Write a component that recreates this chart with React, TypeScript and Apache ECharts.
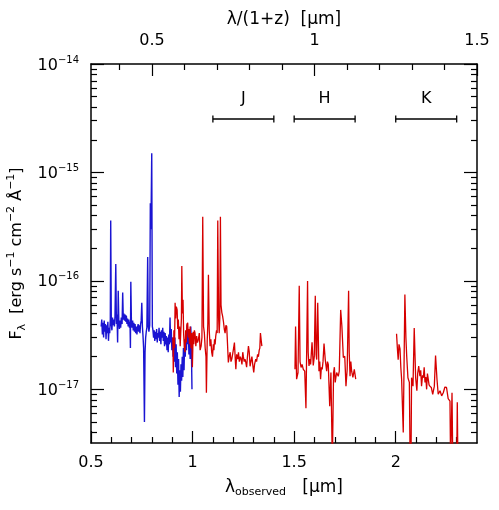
import React, { useEffect, useRef } from "react";
import * as echarts from "echarts";

// 1 + z
const ONE_PLUS_Z = 1.6;

// Axis ticks
const xMajor = [0.5, 1, 1.5, 2];
const xMinor = [0.6, 0.7, 0.8, 0.9, 1.1, 1.2, 1.3, 1.4, 1.6, 1.7, 1.8, 1.9, 2.1, 2.2, 2.3];
const restMajor = [0.5, 1, 1.5];
const restMinor = [0.4, 0.6, 0.7, 0.8, 0.9, 1.1, 1.2, 1.3, 1.4];
// flux in units of 1e-17 erg s^-1 cm^-2 A^-1
const yMajor = [1, 10, 100, 1000];
const yMinor = [
  0.4, 0.5, 0.6, 0.7, 0.8, 0.9,
  2, 3, 4, 5, 6, 7, 8, 9,
  20, 30, 40, 50, 60, 70, 80, 90,
  200, 300, 400, 500, 600, 700, 800, 900,
];

// NIR bands (observed micron)
const bandNames = ["J", "H", "K"];
const bandStart = [1.1, 1.5, 2.0];
const bandEnd = [1.4, 1.8, 2.3];
const bandLevel = 311;
const bandLabelLevel = 486;

// Optical spectrum (blue)
const blueWl = [
  0.55, 0.553, 0.556, 0.559, 0.562, 0.565, 0.568, 0.571, 0.574, 0.577, 0.58, 0.583, 0.586, 0.589, 0.592, 0.595,
  0.597, 0.6, 0.603, 0.606, 0.609, 0.612, 0.615, 0.618, 0.622, 0.625, 0.628, 0.631, 0.634, 0.637, 0.64, 0.643,
  0.646, 0.649, 0.653, 0.656, 0.659, 0.662, 0.665, 0.668, 0.671, 0.674, 0.677, 0.68, 0.683, 0.686, 0.689, 0.692,
  0.694, 0.696, 0.699, 0.702, 0.705, 0.708, 0.711, 0.714, 0.717, 0.72, 0.723, 0.726, 0.729, 0.732, 0.735, 0.738,
  0.741, 0.744, 0.747, 0.75, 0.753, 0.756, 0.759, 0.763, 0.766, 0.769, 0.772, 0.775, 0.779, 0.782, 0.785, 0.789,
  0.792, 0.795, 0.799, 0.802, 0.805, 0.808, 0.811, 0.814, 0.817, 0.82, 0.823, 0.826, 0.829, 0.832, 0.835, 0.838,
  0.841, 0.844, 0.847, 0.85, 0.853, 0.856, 0.859, 0.862, 0.865, 0.868, 0.871, 0.874, 0.877, 0.88, 0.883, 0.886,
  0.889, 0.892, 0.895, 0.898, 0.901, 0.904, 0.907, 0.91, 0.913, 0.916, 0.919, 0.922, 0.925, 0.928, 0.931, 0.934,
  0.937, 0.94, 0.943, 0.946, 0.949, 0.952, 0.955, 0.958, 0.961, 0.964, 0.967, 0.97, 0.973, 0.976, 0.979, 0.982,
  0.985, 0.988, 0.991, 0.994, 0.997,
];
const blueFlux = [
  3.8, 4.4, 3.2, 4.1, 3.0, 4.3, 3.4, 4.0, 2.9, 3.9, 3.3, 4.2, 2.8, 3.7, 3.3, 4.4,
  36, 4.0, 3.5, 4.6, 3.9, 4.4, 3.8, 4.7, 14.3, 4.0, 4.9, 2.7, 8.1, 4.2, 3.6, 4.3,
  3.7, 4.6, 4.0, 7.8, 4.4, 5.0, 4.3, 4.9, 4.2, 4.8, 4.0, 4.5, 3.8, 4.4, 3.7, 4.2,
  2.4, 9.8, 4.1, 3.7, 4.3, 3.5, 4.1, 3.4, 4.0, 3.3, 3.8, 3.2, 3.7, 4.0, 3.4, 3.9,
  3.3, 4.0, 4.3, 6.3, 3.8, 3.1, 2.4, 0.5, 2.2, 3.0, 3.4, 3.7, 16.6, 3.8, 3.4, 3.9,
  52, 30, 150, 3.8, 3.5, 3.0, 3.5, 2.8, 3.4, 2.9, 3.6, 2.7, 3.3, 3.0, 3.7, 2.8,
  3.4, 2.6, 3.5, 3.0, 3.7, 2.8, 3.4, 2.5, 3.3, 2.6, 3.1, 2.3, 3.0, 2.2, 3.2, 2.6,
  4.6, 2.7, 3.6, 2.3, 3.0, 2.0, 2.8, 1.8, 3.0, 1.6, 2.6, 1.4, 2.2, 1.1, 1.9, 0.85,
  1.5, 0.95, 1.7, 1.2, 2.0, 1.3, 2.4, 1.5, 2.9, 2.0, 3.4, 2.3, 3.9, 2.6, 3.5, 2.1,
  3.2, 1.9, 3.8, 2.6, 1.0,
];

// Near-IR spectrum, J region (red)
const redJWl = [
  0.903, 0.905, 0.908, 0.911, 0.914, 0.917, 0.92, 0.924, 0.927, 0.93, 0.933, 0.936, 0.939, 0.942, 0.945, 0.947,
  0.95, 0.953, 0.956, 0.96, 0.963, 0.966, 0.969, 0.972, 0.976, 0.979, 0.982, 0.985, 0.988, 0.992, 0.996, 0.999,
  1.003, 1.006, 1.009, 1.012, 1.016, 1.02, 1.024, 1.029, 1.033, 1.037, 1.042, 1.046, 1.05, 1.054, 1.058, 1.062,
  1.066, 1.068, 1.072, 1.075, 1.078, 1.082, 1.086, 1.09, 1.094, 1.098, 1.102, 1.105, 1.108, 1.111, 1.114, 1.118,
  1.121, 1.124, 1.128, 1.131, 1.134, 1.137, 1.14, 1.144, 1.148, 1.152, 1.156, 1.16, 1.164, 1.168, 1.172, 1.176,
  1.18, 1.185, 1.189, 1.193, 1.197, 1.202, 1.206, 1.21, 1.213, 1.217, 1.222, 1.226, 1.23, 1.235, 1.239, 1.243,
  1.247, 1.25, 1.254, 1.258, 1.262, 1.266, 1.27, 1.275, 1.279, 1.283, 1.287, 1.292, 1.296, 1.301, 1.305, 1.311,
  1.315, 1.32, 1.324, 1.328, 1.331, 1.334, 1.338, 1.341,
];
const redJFlux = [
  3.0, 1.43, 3.5, 2.4, 6.3, 4.5, 5.8, 5.4, 3.6, 4.4, 2.9, 3.8, 2.5, 3.4, 4.5, 13.7,
  5.0, 6.7, 3.2, 2.4, 2.2, 3.5, 2.7, 4.0, 4.1, 3.0, 3.6, 2.6, 3.8, 2.4, 3.3, 1.6,
  3.4, 2.6, 3.5, 3.3, 2.5, 3.1, 2.7, 2.9, 3.3, 2.3, 2.5, 3.0, 39, 3.8, 3.3, 2.4,
  2.0, 0.93, 2.8, 4.0, 11.4, 3.5, 2.5, 2.9, 2.2, 2.0, 2.6, 2.3, 2.9, 2.6, 3.1, 3.5,
  3.3, 36, 4.6, 3.3, 4.5, 39, 6.0, 5.1, 4.7, 4.2, 3.6, 3.3, 3.9, 3.8, 2.6, 1.77,
  2.0, 2.2, 1.8, 1.9, 2.1, 2.4, 2.7, 1.9, 1.53, 2.1, 1.9, 2.2, 1.8, 2.0, 1.9, 1.7,
  2.2, 2.0, 1.8, 1.9, 1.77, 1.6, 2.0, 2.5, 2.2, 1.63, 1.8, 2.0, 1.7, 1.43, 1.7, 1.9,
  1.8, 2.1, 2.0, 2.3, 2.4, 3.3, 2.8, 2.5,
];

// H region
const redHWl = [
  1.504, 1.507, 1.512, 1.519, 1.525, 1.529, 1.534, 1.539, 1.545, 1.552, 1.558, 1.566, 1.569, 1.573, 1.577, 1.581,
  1.588, 1.594, 1.599, 1.604, 1.608, 1.611, 1.616, 1.622, 1.626, 1.63, 1.634, 1.638, 1.642, 1.647, 1.653, 1.66,
  1.664, 1.668, 1.675, 1.681, 1.688, 1.694, 1.698, 1.702, 1.709, 1.717, 1.722, 1.729, 1.735, 1.742, 1.749, 1.755,
  1.761, 1.768, 1.771, 1.775, 1.779, 1.783, 1.789, 1.796, 1.803,
];
const redHFlux = [
  1.53, 3.8, 1.24, 1.43, 9.0, 1.8, 1.59, 1.7, 1.53, 1.47, 0.67, 10.0, 2.2, 1.64, 1.9, 1.7,
  2.72, 1.66, 2.0, 7.3, 2.1, 1.88, 6.3, 1.47, 1.8, 1.24, 1.6, 1.53, 1.8, 2.64, 1.88, 1.47,
  1.8, 1.7, 0.7, 1.43, 0.2, 1.43, 1.6, 1.16, 1.43, 1.32, 1.47, 5.4, 3.8, 1.97, 2.02, 1.07,
  1.53, 8.1, 2.2, 1.32, 1.8, 1.47, 1.29, 1.53, 1.24,
];

// K region
const redKWl = [
  2.004, 2.008, 2.012, 2.016, 2.021, 2.025, 2.029, 2.037, 2.045, 2.05, 2.054, 2.06, 2.067, 2.071, 2.075, 2.078,
  2.085, 2.091, 2.098, 2.104, 2.108, 2.113, 2.119, 2.123, 2.127, 2.132, 2.136, 2.14, 2.144, 2.148, 2.152, 2.156,
  2.16, 2.164, 2.168, 2.175, 2.182, 2.19, 2.196, 2.203, 2.209, 2.218, 2.226, 2.234, 2.242, 2.25, 2.258, 2.267,
  2.27, 2.277, 2.281, 2.3, 2.303, 2.306,
];
const redKFlux = [
  3.26, 2.4, 1.88, 2.6, 2.36, 1.6, 1.24, 0.4, 7.5, 3.0, 2.02, 1.28, 1.16, 0.2, 0.2, 1.28,
  1.07, 3.68, 1.28, 0.97, 1.4, 1.64, 1.32, 1.5, 1.07, 1.35, 1.28, 1.6, 1.16, 1.3, 1.0, 1.4,
  1.24, 1.1, 1.07, 1.04, 0.9, 1.07, 2.05, 1.24, 0.9, 0.97, 0.87, 0.93, 1.05, 1.04, 0.82, 0.78,
  0.2, 0.93, 0.2, 0.2, 0.76, 0.2,
];

const FONT = "DejaVu Sans";
const BLUE = "#1a14d2";
const RED = "#d60000";

const zip = (xs: number[], ys: number[]) => xs.map((x, i) => [x, ys[i]]);
const toObs = (r: number) => Math.round(r * ONE_PLUS_Z * 1e6) / 1e6;

export default function App() {
  const ref = useRef<HTMLDivElement>(null);
  useEffect(() => {
    if (!ref.current) return;
    const chart = echarts.init(ref.current, null, { renderer: "svg" });
    const xBase = {
      type: "value",
      min: 0.5,
      max: 2.4,
      splitLine: { show: false },
      axisLine: { show: false, onZero: false },
    };
    const yBase = {
      type: "log",
      min: 0.32,
      max: 1000,
      splitLine: { show: false },
      axisLine: { show: false, onZero: false },
    };
    const tickStyle = { color: "#000", width: 1.2 };
    const frameStyle = { show: true, onZero: false, lineStyle: { color: "#000", width: 1.5 } };
    const tick = (length: number, values: number[]) => ({
      show: true,
      inside: true,
      length,
      lineStyle: tickStyle,
      customValues: values,
    });
    const supRich = {
      a: { fontSize: 16, fontFamily: FONT, color: "#000", lineHeight: 20 },
      s: { fontSize: 10, fontFamily: FONT, color: "#000", verticalAlign: "top", lineHeight: 10 },
    };
    const restMajorObs = restMajor.map(toObs);
    const restMinorObs = restMinor.map(toObs);
    const option: any = {
      animation: false,
      grid: { left: 91, right: 22, top: 64, bottom: 67, containLabel: false, outerBoundsMode: "none" },
      xAxis: [
        {
          ...xBase,
          position: "bottom",
          axisLine: frameStyle,
          axisTick: tick(12, xMajor),
          axisLabel: {
            customValues: xMajor,
            formatter: (v: number) => String(v),
            fontSize: 16,
            fontFamily: FONT,
            color: "#000",
            margin: 10,
          },
          name: "{t|λ}{sub|observed}{t|   [µm]}",
          nameLocation: "middle",
          nameGap: 32,
          nameTextStyle: {
            rich: {
              t: { fontSize: 17, fontFamily: FONT, color: "#000", lineHeight: 22 },
              sub: { fontSize: 11, fontFamily: FONT, color: "#000", verticalAlign: "bottom", lineHeight: 11 },
            },
          },
        },
        {
          ...xBase,
          position: "bottom",
          axisTick: tick(6, xMinor),
          axisLabel: { show: false },
        },
        {
          ...xBase,
          position: "top",
          axisLine: frameStyle,
          axisTick: tick(12, restMajorObs),
          axisLabel: {
            customValues: restMajorObs,
            formatter: (v: number) => String(Math.round((v / ONE_PLUS_Z) * 100) / 100),
            fontSize: 16,
            fontFamily: FONT,
            color: "#000",
            margin: 17,
          },
          name: "λ/(1+z)  [µm]",
          nameLocation: "middle",
          nameGap: 37,
          nameTextStyle: { fontSize: 17, fontFamily: FONT, color: "#000" },
        },
        {
          ...xBase,
          position: "top",
          axisTick: tick(6, restMinorObs),
          axisLabel: { show: false },
        },
      ],
      yAxis: [
        {
          ...yBase,
          position: "left",
          axisLine: frameStyle,
          axisTick: tick(13, yMajor),
          axisLabel: {
            customValues: yMajor,
            formatter: (v: number) => `{a|10}{s|−${17 - Math.round(Math.log10(v))}}`,
            margin: 12,
            rich: supRich,
          },
          name: "{t|F}{sub|λ}{t|  [erg s}{sup|−1}{t| cm}{sup|−2}{t| Å}{sup|−1}{t|]}",
          nameLocation: "middle",
          nameGap: 59,
          nameTextStyle: {
            rich: {
              t: { fontSize: 16, fontFamily: FONT, color: "#000", lineHeight: 22 },
              sub: { fontSize: 11, fontFamily: FONT, color: "#000", verticalAlign: "bottom", lineHeight: 11 },
              sup: { fontSize: 11, fontFamily: FONT, color: "#000", verticalAlign: "top", lineHeight: 11 },
            },
          },
        },
        {
          ...yBase,
          position: "left",
          axisTick: tick(6, yMinor),
          axisLabel: { show: false },
        },
        {
          ...yBase,
          position: "right",
          axisLine: frameStyle,
          axisTick: tick(13, yMajor),
          axisLabel: { show: false },
        },
        {
          ...yBase,
          position: "right",
          axisTick: tick(6, yMinor),
          axisLabel: { show: false },
        },
      ],
      series: [
        {
          type: "line",
          data: zip(blueWl, blueFlux),
          showSymbol: false,
          lineStyle: { color: BLUE, width: 1.4 },
          itemStyle: { color: BLUE },
          xAxisIndex: 0,
          yAxisIndex: 0,
          z: 3,
        },
        ...[zip(redJWl, redJFlux), zip(redHWl, redHFlux), zip(redKWl, redKFlux)].map((d) => ({
          type: "line",
          data: d,
          showSymbol: false,
          lineStyle: { color: RED, width: 1.3 },
          itemStyle: { color: RED },
          xAxisIndex: 0,
          yAxisIndex: 0,
          z: 4,
        })),
        {
          type: "custom",
          xAxisIndex: 0,
          yAxisIndex: 0,
          data: bandStart.map((s, i) => [s, bandLevel, bandEnd[i]]),
          renderItem: (params: any, api: any) => {
            const i = params.dataIndex;
            const p0 = api.coord([bandStart[i], bandLevel]);
            const p1 = api.coord([bandEnd[i], bandLevel]);
            const pl = api.coord([(bandStart[i] + bandEnd[i]) / 2, bandLabelLevel]);
            const st = { stroke: "#000", lineWidth: 1.3 };
            return {
              type: "group",
              children: [
                { type: "line", shape: { x1: p0[0], y1: p0[1], x2: p1[0], y2: p1[1] }, style: st },
                { type: "line", shape: { x1: p0[0], y1: p0[1] - 3.5, x2: p0[0], y2: p0[1] + 3.5 }, style: st },
                { type: "line", shape: { x1: p1[0], y1: p1[1] - 3.5, x2: p1[0], y2: p1[1] + 3.5 }, style: st },
                {
                  type: "text",
                  x: pl[0],
                  y: pl[1],
                  style: {
                    text: bandNames[i],
                    fontSize: 16,
                    fontFamily: FONT,
                    fill: "#000",
                    align: "center",
                    verticalAlign: "middle",
                  },
                },
              ],
            };
          },
          z: 5,
        },
      ],
    };
    chart.setOption(option);
    return () => chart.dispose();
  }, []);
  return <div ref={ref} style={{ position: "fixed", left: 0, top: 0, width: 499, height: 510 }} />;
}
